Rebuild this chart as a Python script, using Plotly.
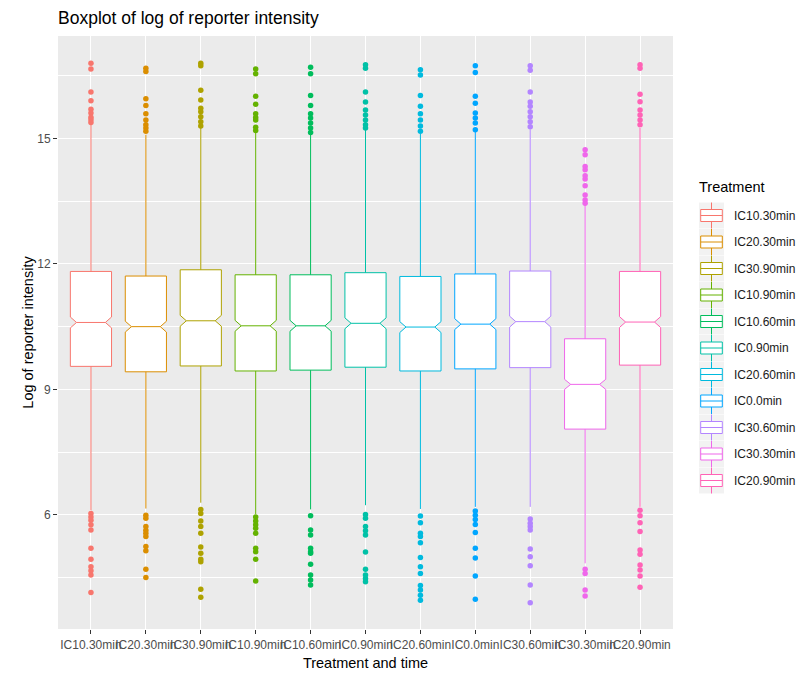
import plotly.graph_objects as go

# Treatment/time groups, in plotting order
groups = ["IC10.30min", "IC20.30min", "IC30.90min", "IC10.90min", "IC10.60min",
          "IC0.90min", "IC20.60min", "IC0.0min", "IC30.60min", "IC30.30min", "IC20.90min"]

# Box statistics (log reporter intensity)
q1 = [9.55, 9.42, 9.56, 9.44, 9.46, 9.53, 9.44, 9.49, 9.52, 8.05, 9.58]
median = [10.60, 10.50, 10.64, 10.52, 10.52, 10.58, 10.49, 10.56, 10.62, 9.12, 10.61]
q3 = [11.82, 11.71, 11.86, 11.74, 11.74, 11.79, 11.70, 11.76, 11.83, 10.21, 11.82]
lower_whisker = [6.11, 6.15, 6.29, 6.02, 6.13, 6.23, 6.14, 6.19, 6.19, 4.84, 6.19]
upper_whisker = [15.33, 15.09, 15.27, 15.14, 15.11, 15.22, 15.11, 15.17, 15.22, 13.41, 15.25]
notch_half = [0.13, 0.13, 0.13, 0.13, 0.13, 0.13, 0.13, 0.13, 0.13, 0.12, 0.13]

# Outlying observations per group
outliers = [
    [16.80, 16.66, 16.11, 15.90, 15.70, 15.61, 15.51, 15.45, 15.38,
     6.03, 5.95, 5.87, 5.76, 5.64, 5.20, 4.94, 4.76, 4.66, 4.56, 4.14],
    [16.68, 16.60, 15.95, 15.79, 15.59, 15.44, 15.33, 15.25, 15.17,
     5.99, 5.92, 5.72, 5.63, 5.56, 5.48, 5.24, 5.14, 4.70, 4.50],
    [16.80, 16.74, 16.15, 15.92, 15.72, 15.64, 15.52, 15.40, 15.30,
     6.13, 6.03, 5.85, 5.72, 5.56, 5.23, 5.08, 4.94, 4.88, 4.22, 4.03],
    [16.66, 16.55, 16.01, 15.82, 15.59, 15.50, 15.44, 15.27, 15.19,
     5.95, 5.85, 5.76, 5.68, 5.56, 5.20, 5.12, 4.94, 4.42],
    [16.70, 16.55, 16.03, 15.79, 15.59, 15.49, 15.37, 15.25, 15.14,
     5.98, 5.64, 5.52, 5.20, 5.12, 5.08, 4.82, 4.56, 4.44, 4.32],
    [16.76, 16.68, 16.11, 15.87, 15.68, 15.56, 15.44, 15.33, 15.25,
     6.01, 5.92, 5.72, 5.62, 5.52, 5.11, 4.70, 4.56, 4.48, 4.40],
    [16.64, 16.52, 16.03, 15.77, 15.59, 15.44, 15.30, 15.17,
     5.97, 5.81, 5.56, 5.48, 5.33, 4.98, 4.76, 4.60, 4.31, 4.20, 4.08, 3.96],
    [16.74, 16.58, 16.01, 15.84, 15.61, 15.49, 15.37, 15.21,
     6.09, 5.99, 5.89, 5.77, 5.58, 5.20, 4.97, 4.54, 3.98],
    [16.74, 16.63, 16.11, 15.87, 15.77, 15.64, 15.52, 15.40, 15.28,
     5.90, 5.80, 5.72, 5.64, 5.18, 5.00, 4.78, 4.32, 3.90],
    [14.73, 14.61, 14.33, 14.25, 14.11, 14.03, 13.87, 13.65, 13.53, 13.45,
     4.70, 4.60, 4.20, 4.06],
    [16.76, 16.68, 16.06, 15.88, 15.68, 15.56, 15.44, 15.33,
     6.11, 5.98, 5.81, 5.60, 5.16, 5.06, 4.80, 4.68, 4.54, 4.27],
]

# ggplot2 default hue palette for 11 levels
colors = ["#F8766D", "#DB8E00", "#AEA200", "#64B200", "#00BD5C", "#00C1A7",
          "#00BADE", "#00A6FF", "#B385FF", "#EF67EB", "#FF63B6"]

W, H = 810, 674
M_L, M_R, M_T, M_B = 58, 137, 36, 45
PW, PH = W - M_L - M_R, H - M_T - M_B


def px_x(px):
    return (px - M_L) / PW


def px_y(py):
    return (H - M_B - py) / PH


fig = go.Figure()

for i, g in enumerate(groups):
    fig.add_trace(go.Box(
        x=[g], q1=[q1[i]], median=[median[i]], q3=[q3[i]],
        lowerfence=[lower_whisker[i]], upperfence=[upper_whisker[i]],
        notchspan=[notch_half[i]], notched=True, notchwidth=0.15,
        boxpoints=False, whiskerwidth=0, width=0.75,
        fillcolor="white", line=dict(color=colors[i], width=1),
        name=g, showlegend=False, hoverinfo="skip",
    ))
    fig.add_trace(go.Scatter(
        x=[g] * len(outliers[i]), y=outliers[i], mode="markers",
        marker=dict(color=colors[i], size=5.5, line=dict(width=0)),
        showlegend=False, hoverinfo="skip",
    ))

# Legend: grey key squares holding a small box glyph, label on the right
shapes = []
annotations = []
font_family = "Liberation Sans, Arial, sans-serif"
key_x0, key_x1 = 699, 724
box_x0, box_x1 = 700.7, 722.3
key_cx = (key_x0 + key_x1) / 2
first_y, step = 215.5, 26.5
for i, g in enumerate(groups):
    cy = first_y + i * step
    shapes.append(dict(type="rect", xref="paper", yref="paper",
                       x0=px_x(key_x0), x1=px_x(key_x1),
                       y0=px_y(cy + 13), y1=px_y(cy - 13),
                       fillcolor="#F2F2F2", line=dict(width=0), layer="above"))
    for a, b in ((cy - 13, cy - 6), (cy + 6, cy + 13)):
        shapes.append(dict(type="line", xref="paper", yref="paper",
                           x0=px_x(key_cx), x1=px_x(key_cx),
                           y0=px_y(a), y1=px_y(b),
                           line=dict(color=colors[i], width=1), layer="above"))
    shapes.append(dict(type="rect", xref="paper", yref="paper",
                       x0=px_x(box_x0), x1=px_x(box_x1),
                       y0=px_y(cy + 6), y1=px_y(cy - 6),
                       fillcolor="white", line=dict(color=colors[i], width=1),
                       layer="above"))
    shapes.append(dict(type="line", xref="paper", yref="paper",
                       x0=px_x(box_x0), x1=px_x(box_x1),
                       y0=px_y(cy), y1=px_y(cy),
                       line=dict(color=colors[i], width=1), layer="above"))
    annotations.append(dict(text=g, xref="paper", yref="paper",
                            x=px_x(731.5), y=px_y(cy), xanchor="left", yanchor="middle",
                            showarrow=False,
                            font=dict(family=font_family, size=12, color="#1A1A1A")))
annotations.append(dict(text="Treatment", xref="paper", yref="paper",
                        x=px_x(697), y=px_y(186.5), xanchor="left", yanchor="middle",
                        showarrow=False,
                        font=dict(family=font_family, size=14.5, color="black")))

grid = "white"
tick_font = dict(family=font_family, size=12, color="#4D4D4D")

fig.update_layout(
    width=W, height=H,
    margin=dict(l=M_L, r=M_R, t=M_T, b=M_B, autoexpand=False),
    paper_bgcolor="white", plot_bgcolor="#EBEBEB",
    boxmode="overlay", showlegend=False,
    font=dict(family=font_family, color="black"),
    title=dict(text="Boxplot of log of reporter intensity",
               font=dict(size=17.5, color="black"),
               x=M_L / W, xanchor="left", y=1 - 18 / H, yanchor="middle"),
    xaxis=dict(
        title=dict(text="Treatment and time", font=dict(size=14.5), standoff=6),
        type="category", categoryorder="array", categoryarray=groups,
        range=[-0.6, 10.6], tickangle=0, tickfont=tick_font, ticklabelstandoff=1,
        automargin=False,
        showgrid=True, gridcolor=grid, gridwidth=1.1,
        ticks="outside", ticklen=4, tickwidth=1.1, tickcolor="#333333",
        zeroline=False, showline=False, fixedrange=True,
    ),
    yaxis=dict(
        title=dict(text="Log of reporter intensity", font=dict(size=14.5), standoff=0),
        range=[3.27, 17.45], tickmode="array", tickvals=[6, 9, 12, 15],
        tickfont=tick_font, automargin=False,
        showgrid=True, gridcolor=grid, gridwidth=1.1,
        minor=dict(tickmode="array", tickvals=[4.5, 7.5, 10.5, 13.5, 16.5],
                   showgrid=True, gridcolor=grid, gridwidth=0.55, ticks=""),
        ticks="outside", ticklen=4, tickwidth=1.1, tickcolor="#333333",
        zeroline=False, showline=False, fixedrange=True,
    ),
    shapes=shapes,
    annotations=annotations,
)

fig.write_html("out.html")
